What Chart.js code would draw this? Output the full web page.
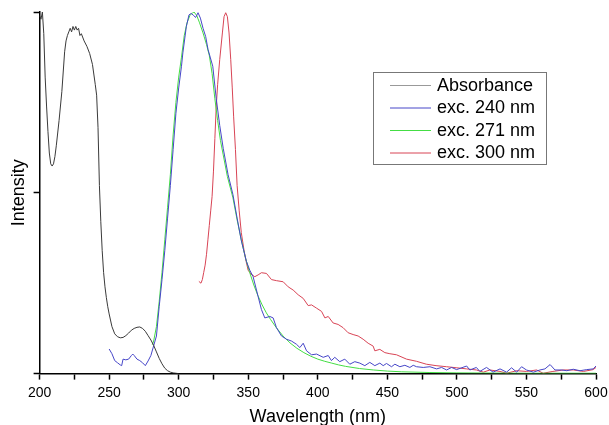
<!DOCTYPE html>
<html>
<head>
<meta charset="utf-8">
<script src="https://cdn.jsdelivr.net/npm/chart.js@4/dist/chart.umd.min.js"></script>
<style>
  html, body { margin: 0; padding: 0; background: #fff; }
  #wrap { width: 609px; height: 425px; }
</style>
</head>
<body>
<div id="wrap"><canvas id="spectra"></canvas></div>
<script>
// x ticks
var xTicks = [200, 250, 300, 350, 400, 450, 500, 550, 600];

// Absorbance
var absWl  = [200,201,202,203,204,205,206,207,208,209,210,211,212,214,216,218,219,220,221,222,223,224,225,226,227,228,229,230,232,234,236,238,240,241,242,243,244,245,246,247,248,249,250,252,254,256,258,260,262,264,266,268,270,272,274,276,278,280,282,284,286,288,290,292,294,296,298,300];
var absVal = [0.99,0.98,1.0,0.94,0.82,0.74,0.67,0.61,0.58,0.574,0.58,0.60,0.63,0.70,0.78,0.89,0.92,0.935,0.945,0.955,0.945,0.96,0.95,0.96,0.95,0.955,0.935,0.94,0.92,0.905,0.885,0.855,0.80,0.77,0.68,0.52,0.42,0.34,0.28,0.24,0.21,0.185,0.165,0.13,0.11,0.102,0.099,0.10,0.105,0.112,0.12,0.125,0.128,0.129,0.125,0.117,0.105,0.093,0.078,0.06,0.042,0.027,0.015,0.008,0.004,0.002,0.001,0.0];

// exc. 240 nm
var ex240Wl  = [250,252,254,256,258,259,260,262,264,266,267,268,270,272,274,276,278,280,282,284,286,288,290,292,294,296,298,300,302,303,305.5,307.4,309,310.8,312.2,313.9,315.6,317.5,319.4,321.1,322.8,324.5,327,329.5,332,335.5,339,342,345,348.7,351.1,353.5,357.1,359.5,361.9,365.5,367.9,370.3,373.9,377.5,381.1,384.7,387.1,389.5,391.9,395.5,399.1,403.9,407.5,409.8,412.2,415.8,419.4,423,426.6,430.2,433.8,437.4,441,444.6,447,449.4,453,455.4,459,462.6,466.2,468.6,471,475.8,480.6,485.4,489,492.6,496.2,499.8,507,509.3,514,516.5,521.3,526,531,535.7,539.3,543,546.5,550,555,559.7,563.3,567,570.5,575.3,579,583.7,588.5,593.3,598,600];
var ex240Val = [0.068,0.055,0.036,0.03,0.024,0.022,0.04,0.038,0.04,0.05,0.054,0.05,0.04,0.036,0.03,0.022,0.035,0.05,0.077,0.104,0.186,0.26,0.34,0.43,0.52,0.62,0.72,0.79,0.85,0.887,0.96,0.992,0.996,0.99,0.985,0.998,0.983,0.955,0.932,0.896,0.873,0.85,0.76,0.686,0.623,0.55,0.495,0.43,0.368,0.31,0.286,0.268,0.213,0.177,0.154,0.158,0.154,0.127,0.104,0.095,0.09,0.081,0.072,0.084,0.063,0.052,0.054,0.045,0.05,0.036,0.045,0.033,0.04,0.026,0.033,0.029,0.022,0.031,0.022,0.029,0.022,0.028,0.019,0.026,0.019,0.023,0.017,0.023,0.019,0.017,0.019,0.013,0.017,0.01,0.017,0.011,0.021,0.01,0.017,0.006,0.017,0.004,0.013,0.004,0.016,0.004,0.019,0.01,0.004,0.01,0.013,0.025,0.01,0.01,0.008,0.012,0.008,0.011,0.013,0.021];

// exc. 271 nm
var ex271Wl  = [281,282,284,286,288,290,292,294,296,298,300,302,304,306,308,310,311,313,315,317.5,320,322,324,326,328,330,332,335,339,342,345,348,351,354,357,360,363,366,370,375,380,385,390,395,400,405,410,415,420,430,440,450,460,480,500,550,600];
var ex271Val = [0.08,0.09,0.13,0.2,0.28,0.37,0.46,0.55,0.66,0.75,0.82,0.875,0.935,0.97,0.99,0.998,1.0,0.99,0.97,0.942,0.91,0.88,0.83,0.76,0.70,0.645,0.605,0.545,0.486,0.425,0.37,0.32,0.28,0.245,0.215,0.19,0.168,0.15,0.128,0.104,0.085,0.07,0.058,0.048,0.04,0.034,0.029,0.024,0.02,0.014,0.01,0.007,0.005,0.003,0.002,0.001,0.001];

// exc. 300 nm
var ex300Wl  = [314.5,316,317,318,319,320,321,322,323,324,325,326,327,328,329.5,331.4,332.6,333.8,335,336.2,337.4,338.5,339.5,340.8,342,343.5,345,347,348.5,349.9,352,354.7,357.1,359.5,363.1,366.7,370.3,375.1,378.7,382.3,385.9,389.5,393.1,395.5,399.1,402.7,405.1,407.5,411,414.6,418.2,421.8,425.4,429,432.6,436.2,439.8,441,444.6,448.2,451.8,456.6,463.8,471,478,485,492.6,500,507,514,519,523.7,531,535.7,543,550,557.3,562,569,576.5,583.7,591,598,600];
var ex300Val = [0.255,0.25,0.26,0.28,0.30,0.33,0.37,0.41,0.45,0.49,0.56,0.65,0.74,0.80,0.869,0.942,0.987,0.998,0.987,0.942,0.869,0.79,0.71,0.62,0.52,0.45,0.39,0.34,0.31,0.286,0.275,0.268,0.273,0.279,0.277,0.26,0.257,0.254,0.24,0.231,0.218,0.208,0.188,0.19,0.181,0.172,0.154,0.158,0.14,0.136,0.127,0.113,0.108,0.104,0.095,0.084,0.076,0.063,0.067,0.058,0.055,0.052,0.04,0.034,0.026,0.022,0.019,0.016,0.013,0.01,0.004,0.01,0.006,0.001,0.008,0.006,0.01,0.001,0.006,0.01,0.01,0.006,0.011,0.017];

function pts(xs, ys) {
  return xs.map(function (x, i) { return { x: x, y: ys[i] }; });
}

var FONT = '"Liberation Sans", Arial, sans-serif';

function makeSet(label, xs, ys, color) {
  return {
    label: label,
    data: pts(xs, ys),
    borderColor: color,
    borderWidth: 1,
    pointRadius: 0,
    tension: 0,
    fill: false
  };
}

// legend drawn inside the plot, boxed like the original
var boxLegend = {
  id: 'boxLegend',
  afterDraw: function (chart) {
    var ctx = chart.ctx;
    ctx.save();
    ctx.strokeStyle = '#777';
    ctx.lineWidth = 1;
    ctx.strokeRect(373.5, 72.5, 173, 92);
    ctx.font = '18px ' + FONT;
    ctx.textBaseline = 'middle';
    ctx.fillStyle = '#000';
    chart.data.datasets.forEach(function (ds, i) {
      var y = 85 + i * 22.5;
      ctx.strokeStyle = ds.legendColor || ds.borderColor;
      ctx.beginPath();
      ctx.moveTo(390, y + 0.5);
      ctx.lineTo(431, y + 0.5);
      ctx.stroke();
      ctx.fillText(ds.label, 437, y + 1);
    });
    ctx.restore();
  }
};

var absSet = makeSet('Absorbance', absWl, absVal, '#3a3a3a');
absSet.legendColor = '#999';

new Chart(document.getElementById('spectra').getContext('2d'), {
  type: 'line',
  data: {
    datasets: [
      absSet,
      makeSet('exc. 240 nm', ex240Wl, ex240Val, '#4646c8'),
      makeSet('exc. 271 nm', ex271Wl, ex271Val, '#44dd44'),
      makeSet('exc. 300 nm', ex300Wl, ex300Val, '#d84455')
    ]
  },
  options: {
    responsive: true,
    maintainAspectRatio: false,
    animation: false,
    layout: { padding: { top: 12, left: 4, right: 0, bottom: -3 } },
    plugins: {
      legend: { display: false },
      tooltip: { enabled: false }
    },
    scales: {
      x: {
        type: 'linear',
        min: 200,
        max: 600,
        afterBuildTicks: function (axis) {
          var t = [];
          for (var v = 200; v <= 600; v += 25) t.push({ value: v });
          axis.ticks = t;
        },
        afterFit: function (axis) {
          axis.paddingRight = 13;
        },
        ticks: {
          padding: 5,
          color: '#000',
          font: { family: FONT, size: 14 },
          maxRotation: 0,
          autoSkip: false,
          callback: function (v) { return xTicks.indexOf(v) >= 0 ? String(v) : ''; }
        },
        grid: { drawOnChartArea: false, drawTicks: true, tickLength: 6, color: '#000', tickWidth: 1.5 },
        border: { display: true, color: '#000', width: 1.5 },
        title: {
          display: true,
          text: 'Wavelength (nm)',
          color: '#000',
          font: { family: FONT, size: 18 },
          padding: { top: 0, bottom: 0 }
        }
      },
      y: {
        type: 'linear',
        min: 0,
        max: 1,
        ticks: { display: false, stepSize: 0.5 },
        grid: { drawOnChartArea: false, drawTicks: true, tickLength: 6, color: '#000', tickWidth: 1.5 },
        border: { display: true, color: '#000', width: 1.5 },
        title: {
          display: true,
          text: 'Intensity',
          color: '#000',
          font: { family: FONT, size: 18 },
          padding: { top: 4, bottom: 4 }
        }
      }
    }
  },
  plugins: [boxLegend]
});
</script>
</body>
</html>
